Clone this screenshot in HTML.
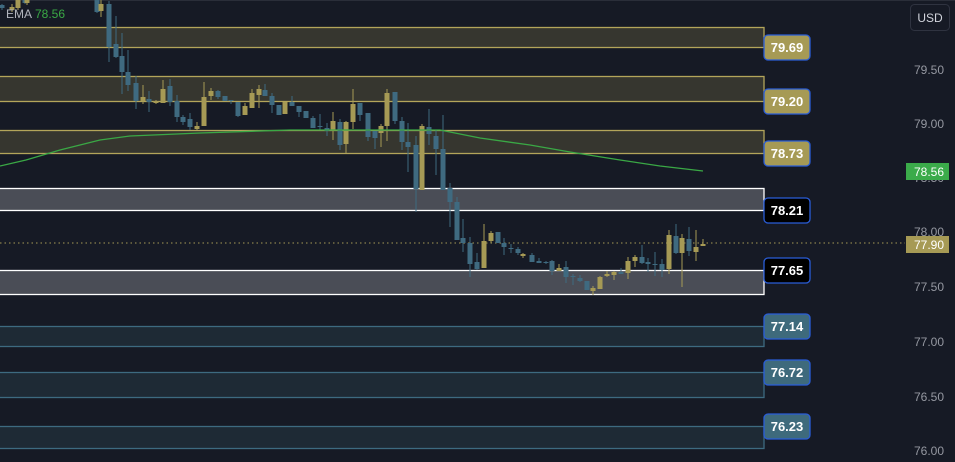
<!DOCTYPE html><html><head><style>
body{margin:0;background:#161a25;width:955px;height:462px;overflow:hidden;font-family:"Liberation Sans",sans-serif}
</style></head><body>
<svg id="s" width="955" height="462" xmlns="http://www.w3.org/2000/svg" style="display:block">
<rect width="955" height="462" fill="#161a25"/>
<line x1="0" y1="0.5" x2="955" y2="0.5" stroke="#2a2e39"/>
<g id="z"></g>
<line x1="0" y1="243" x2="905" y2="243" stroke="#a69a55" stroke-dasharray="1.5,3"/>
<g id="c"></g>
<polyline fill="none" stroke="#3aa845" stroke-width="1.3" points="0,166 26,160 60,150 100,140 130,136 200,133 290,130 330,130 440,130 480,138 530,145 570,152 620,160 660,166 703,171"/>
<g id="l"></g>
<text x="6" y="18" font-size="12" fill="#b2b5be">EMA</text><text x="35" y="18" font-size="12" fill="#3aa845">78.56</text>
<rect x="910.5" y="4.5" width="39" height="26" rx="4" fill="#161a25" stroke="#2f3340"/>
<text x="930" y="22" font-size="12" fill="#d1d4dc" text-anchor="middle">USD</text>
<g font-size="12" fill="#9598a1" text-anchor="end">
<text x="944" y="74">79.50</text><text x="944" y="128">79.00</text><text x="944" y="182">78.50</text><text x="944" y="236">78.00</text><text x="944" y="291">77.50</text><text x="944" y="346">77.00</text><text x="944" y="401">76.50</text><text x="944" y="455">76.00</text>
</g>
<rect x="906" y="163" width="43" height="17" fill="#3bab4a"/><text x="944" y="176" font-size="12" fill="#fff" text-anchor="end">78.56</text>
<rect x="906" y="236" width="43" height="17" fill="#a69a55"/><text x="944" y="249" font-size="12" fill="#fff" text-anchor="end">77.90</text>
</svg>
<script>
var NS="http://www.w3.org/2000/svg";
function el(p,t,a){var e=document.createElementNS(NS,t);for(var k in a)e.setAttribute(k,a[k]);p.appendChild(e);return e}
var z=document.getElementById('z'),l=document.getElementById('l'),c=document.getElementById('c');
var zones=[[27,47,'#36362f','#b3a55a'],[76,101,'#36362f','#b3a55a'],[130,153,'#36362f','#b3a55a'],[188,210,'#4a4d56','#ffffff'],[270,294,'#4a4d56','#ffffff'],[326,346,'#1e2a35','#3d6a80'],[372,397,'#1e2a35','#3d6a80'],[426,448,'#1e2a35','#3d6a80']];
zones.forEach(function(q){el(z,'rect',{x:-2,y:q[0]+.5,width:766,height:q[1]-q[0],fill:q[2],stroke:q[3],'stroke-width':1.3})});
var labs=[[47,'79.69','#a69a55'],[101,'79.20','#a69a55'],[153,'78.73','#a69a55'],[210,'78.21','#000'],[270,'77.65','#000'],[326,'77.14','#3e6a7c'],[372,'76.72','#3e6a7c'],[426,'76.23','#3e6a7c']];
labs.forEach(function(q){el(l,'rect',{x:764,y:q[0]-12,width:46,height:25,rx:4,fill:q[2],stroke:'#2a5dd8','stroke-width':1.3});var t=el(l,'text',{x:787,y:q[0]+5,'font-size':13,'font-weight':'bold',fill:'#fff','text-anchor':'middle'});t.textContent=q[1]});
var Y='#a69a55',B='#3f6a80';
var d=[[2,B,5,8,4,10],[12,Y,7,10,4,12],[18,Y,0,8,0,10],[25,B,0,3,0,4],[27,Y,0,3,0,5],[97,B,0,12,0,13],[101,Y,4,11,0,17],[109,B,4,47,1,62],[116,B,44,57,16,58],[122,B,56,72,33,94],[128,B,72,85,50,91],[136,B,83,101,76,109],[143,Y,97,101,85,104],[149,B,99,102,91,112],[156,Y,101,103,100,104],[163,Y,89,103,80,103],[170,B,86,102,79,106],[177,B,101,117,95,122],[183,B,117,122,115,125],[190,B,119,127,113,130],[197,Y,126,129,122,130],[204,Y,97,126,82,126],[211,Y,91,96,88,100],[218,B,91,97,90,99],[225,B,96,101,96,101],[231,B,100,101,100,104],[238,B,102,116,102,117],[245,Y,106,115,103,111],[252,Y,93,108,89,108],[259,Y,89,95,85,108],[265,B,90,96,84,96],[272,B,96,105,93,113],[279,B,105,115,105,115],[285,Y,102,114,102,114],[292,B,102,106,96,106],[299,B,106,112,106,117],[306,B,111,118,111,118],[313,B,118,128,116,128],[320,B,126,127,114,130],[327,B,128,131,123,136],[333,Y,121,130,112,140],[340,B,122,145,119,150],[346,Y,122,144,121,153],[353,Y,104,122,89,129],[360,B,103,115,103,121],[368,B,113,137,113,141],[375,B,131,138,131,149],[381,Y,126,133,124,147],[387,Y,93,126,89,141],[395,B,92,121,92,124],[402,B,121,142,117,150],[408,B,142,147,123,172],[416,B,145,189,136,212],[422,Y,126,190,124,190],[429,B,127,134,109,145],[436,B,136,149,130,175],[443,B,149,190,115,190],[450,B,188,202,183,227],[457,B,202,240,197,240],[463,B,238,243,219,252],[470,B,243,264,237,277],[477,B,262,269,253,270],[484,Y,241,268,224,268],[491,Y,233,241,231,243],[498,B,232,243,232,243],[504,B,243,247,238,255],[511,B,248,249,244,253],[518,B,249,253,247,255],[523,Y,254,256,253,258],[532,B,255,262,253,262],[539,B,261,263,258,263],[546,B,262,263,261,264],[552,B,261,271,260,275],[559,Y,268,271,264,271],[566,B,267,277,261,283],[573,B,276,277,274,285],[580,B,278,281,275,282],[587,B,281,290,281,290],[593,Y,288,291,286,295],[600,Y,277,289,276,289],[607,Y,274,276,271,277],[614,Y,272,275,271,280],[621,B,272,274,268,274],[628,Y,261,273,257,279],[635,Y,257,261,255,267],[642,B,257,263,245,264],[648,B,262,264,258,272],[655,B,264,265,252,276],[662,B,264,270,259,277],[669,Y,235,269,230,274],[676,B,236,253,224,254],[682,Y,238,253,234,287],[689,B,239,251,227,256],[696,Y,247,252,230,261],[703,Y,244,246,239,246]];
d.forEach(function(q){el(c,'rect',{x:q[0]-0.5,y:q[4],width:1,height:q[5]-q[4],fill:q[1]});el(c,'rect',{x:q[0]-2.5,y:q[2],width:5,height:Math.max(1,q[3]-q[2]),fill:q[1]})});
</script>
</body></html>
